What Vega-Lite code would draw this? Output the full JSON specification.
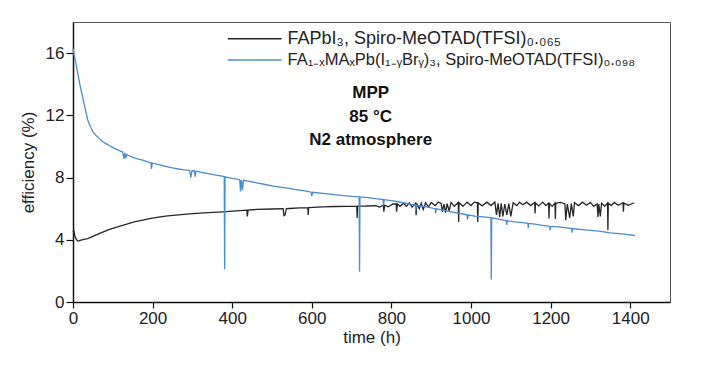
{
  "$schema": "https://vega.github.io/schema/vega-lite/v6.json",
  "width": 597,
  "height": 280,
  "autosize": {"type": "none"},
  "padding": {"left": 73, "top": 22, "right": 33, "bottom": 71},
  "background": "white",
  "config": {
    "view": {"stroke": "#555555", "strokeWidth": 1},
    "font": "Liberation Sans"
  },
  "datasets": {
    "curves": [
      {"t": 0, "eff": 4.5, "s": "FAPbI3"},
      {"t": 2, "eff": 4.6, "s": "FAPbI3"},
      {"t": 5, "eff": 4.2, "s": "FAPbI3"},
      {"t": 10, "eff": 3.95, "s": "FAPbI3"},
      {"t": 13, "eff": 3.92, "s": "FAPbI3"},
      {"t": 20, "eff": 3.97, "s": "FAPbI3"},
      {"t": 30, "eff": 4.04, "s": "FAPbI3"},
      {"t": 37, "eff": 4.08, "s": "FAPbI3"},
      {"t": 50, "eff": 4.22, "s": "FAPbI3"},
      {"t": 70, "eff": 4.44, "s": "FAPbI3"},
      {"t": 90, "eff": 4.65, "s": "FAPbI3"},
      {"t": 112, "eff": 4.83, "s": "FAPbI3"},
      {"t": 135, "eff": 5.0, "s": "FAPbI3"},
      {"t": 154, "eff": 5.15, "s": "FAPbI3"},
      {"t": 175, "eff": 5.27, "s": "FAPbI3"},
      {"t": 196, "eff": 5.37, "s": "FAPbI3"},
      {"t": 215, "eff": 5.46, "s": "FAPbI3"},
      {"t": 238, "eff": 5.54, "s": "FAPbI3"},
      {"t": 265, "eff": 5.6, "s": "FAPbI3"},
      {"t": 300, "eff": 5.68, "s": "FAPbI3"},
      {"t": 340, "eff": 5.74, "s": "FAPbI3"},
      {"t": 377, "eff": 5.8, "s": "FAPbI3"},
      {"t": 410, "eff": 5.86, "s": "FAPbI3"},
      {"t": 437, "eff": 5.9, "s": "FAPbI3"},
      {"t": 438, "eff": 5.5, "s": "FAPbI3"},
      {"t": 440, "eff": 5.9, "s": "FAPbI3"},
      {"t": 461, "eff": 5.95, "s": "FAPbI3"},
      {"t": 500, "eff": 5.98, "s": "FAPbI3"},
      {"t": 528, "eff": 6.0, "s": "FAPbI3"},
      {"t": 530, "eff": 5.55, "s": "FAPbI3"},
      {"t": 533, "eff": 5.6, "s": "FAPbI3"},
      {"t": 536, "eff": 6.0, "s": "FAPbI3"},
      {"t": 544, "eff": 6.01, "s": "FAPbI3"},
      {"t": 570, "eff": 6.05, "s": "FAPbI3"},
      {"t": 590, "eff": 6.07, "s": "FAPbI3"},
      {"t": 591, "eff": 5.6, "s": "FAPbI3"},
      {"t": 592, "eff": 6.07, "s": "FAPbI3"},
      {"t": 628, "eff": 6.12, "s": "FAPbI3"},
      {"t": 660, "eff": 6.14, "s": "FAPbI3"},
      {"t": 690, "eff": 6.15, "s": "FAPbI3"},
      {"t": 713, "eff": 6.16, "s": "FAPbI3"},
      {"t": 714, "eff": 5.4, "s": "FAPbI3"},
      {"t": 715, "eff": 6.16, "s": "FAPbI3"},
      {"t": 737, "eff": 6.17, "s": "FAPbI3"},
      {"t": 760, "eff": 6.2, "s": "FAPbI3"},
      {"t": 770, "eff": 6.1, "s": "FAPbI3"},
      {"t": 780, "eff": 6.22, "s": "FAPbI3"},
      {"t": 781, "eff": 5.8, "s": "FAPbI3"},
      {"t": 783, "eff": 6.22, "s": "FAPbI3"},
      {"t": 792, "eff": 6.12, "s": "FAPbI3"},
      {"t": 804, "eff": 6.3, "s": "FAPbI3"},
      {"t": 812, "eff": 6.3, "s": "FAPbI3"},
      {"t": 813, "eff": 5.8, "s": "FAPbI3"},
      {"t": 815, "eff": 6.3, "s": "FAPbI3"},
      {"t": 822, "eff": 6.15, "s": "FAPbI3"},
      {"t": 830, "eff": 6.35, "s": "FAPbI3"},
      {"t": 838, "eff": 6.15, "s": "FAPbI3"},
      {"t": 845, "eff": 6.38, "s": "FAPbI3"},
      {"t": 852, "eff": 6.1, "s": "FAPbI3"},
      {"t": 861, "eff": 6.36, "s": "FAPbI3"},
      {"t": 862, "eff": 5.58, "s": "FAPbI3"},
      {"t": 864, "eff": 6.33, "s": "FAPbI3"},
      {"t": 870, "eff": 6.0, "s": "FAPbI3"},
      {"t": 875, "eff": 6.35, "s": "FAPbI3"},
      {"t": 880, "eff": 5.95, "s": "FAPbI3"},
      {"t": 886, "eff": 6.38, "s": "FAPbI3"},
      {"t": 893, "eff": 6.1, "s": "FAPbI3"},
      {"t": 900, "eff": 6.4, "s": "FAPbI3"},
      {"t": 910, "eff": 6.2, "s": "FAPbI3"},
      {"t": 918, "eff": 6.42, "s": "FAPbI3"},
      {"t": 925, "eff": 6.33, "s": "FAPbI3"},
      {"t": 928, "eff": 5.8, "s": "FAPbI3"},
      {"t": 932, "eff": 6.3, "s": "FAPbI3"},
      {"t": 936, "eff": 5.75, "s": "FAPbI3"},
      {"t": 940, "eff": 6.32, "s": "FAPbI3"},
      {"t": 945, "eff": 5.85, "s": "FAPbI3"},
      {"t": 950, "eff": 6.4, "s": "FAPbI3"},
      {"t": 958, "eff": 6.15, "s": "FAPbI3"},
      {"t": 968, "eff": 6.4, "s": "FAPbI3"},
      {"t": 969, "eff": 5.15, "s": "FAPbI3"},
      {"t": 970, "eff": 6.38, "s": "FAPbI3"},
      {"t": 980, "eff": 6.15, "s": "FAPbI3"},
      {"t": 990, "eff": 6.42, "s": "FAPbI3"},
      {"t": 1000, "eff": 6.2, "s": "FAPbI3"},
      {"t": 1008, "eff": 6.42, "s": "FAPbI3"},
      {"t": 1016, "eff": 6.38, "s": "FAPbI3"},
      {"t": 1017, "eff": 5.15, "s": "FAPbI3"},
      {"t": 1018, "eff": 6.38, "s": "FAPbI3"},
      {"t": 1028, "eff": 6.18, "s": "FAPbI3"},
      {"t": 1040, "eff": 6.42, "s": "FAPbI3"},
      {"t": 1050, "eff": 6.2, "s": "FAPbI3"},
      {"t": 1060, "eff": 6.42, "s": "FAPbI3"},
      {"t": 1064, "eff": 5.6, "s": "FAPbI3"},
      {"t": 1068, "eff": 6.35, "s": "FAPbI3"},
      {"t": 1072, "eff": 5.47, "s": "FAPbI3"},
      {"t": 1076, "eff": 6.35, "s": "FAPbI3"},
      {"t": 1080, "eff": 5.5, "s": "FAPbI3"},
      {"t": 1085, "eff": 6.3, "s": "FAPbI3"},
      {"t": 1090, "eff": 5.6, "s": "FAPbI3"},
      {"t": 1095, "eff": 6.32, "s": "FAPbI3"},
      {"t": 1100, "eff": 5.5, "s": "FAPbI3"},
      {"t": 1106, "eff": 6.38, "s": "FAPbI3"},
      {"t": 1115, "eff": 6.2, "s": "FAPbI3"},
      {"t": 1122, "eff": 6.42, "s": "FAPbI3"},
      {"t": 1130, "eff": 6.25, "s": "FAPbI3"},
      {"t": 1140, "eff": 6.42, "s": "FAPbI3"},
      {"t": 1150, "eff": 6.2, "s": "FAPbI3"},
      {"t": 1160, "eff": 6.4, "s": "FAPbI3"},
      {"t": 1161, "eff": 5.69, "s": "FAPbI3"},
      {"t": 1162, "eff": 6.38, "s": "FAPbI3"},
      {"t": 1170, "eff": 6.18, "s": "FAPbI3"},
      {"t": 1180, "eff": 6.42, "s": "FAPbI3"},
      {"t": 1188, "eff": 6.2, "s": "FAPbI3"},
      {"t": 1195, "eff": 6.36, "s": "FAPbI3"},
      {"t": 1196, "eff": 5.37, "s": "FAPbI3"},
      {"t": 1197, "eff": 6.34, "s": "FAPbI3"},
      {"t": 1204, "eff": 6.15, "s": "FAPbI3"},
      {"t": 1211, "eff": 6.36, "s": "FAPbI3"},
      {"t": 1212, "eff": 5.33, "s": "FAPbI3"},
      {"t": 1213, "eff": 6.34, "s": "FAPbI3"},
      {"t": 1225, "eff": 6.4, "s": "FAPbI3"},
      {"t": 1236, "eff": 6.3, "s": "FAPbI3"},
      {"t": 1238, "eff": 5.26, "s": "FAPbI3"},
      {"t": 1242, "eff": 6.3, "s": "FAPbI3"},
      {"t": 1248, "eff": 5.4, "s": "FAPbI3"},
      {"t": 1252, "eff": 6.33, "s": "FAPbI3"},
      {"t": 1257, "eff": 5.5, "s": "FAPbI3"},
      {"t": 1260, "eff": 6.38, "s": "FAPbI3"},
      {"t": 1270, "eff": 6.2, "s": "FAPbI3"},
      {"t": 1280, "eff": 6.42, "s": "FAPbI3"},
      {"t": 1290, "eff": 6.22, "s": "FAPbI3"},
      {"t": 1300, "eff": 6.4, "s": "FAPbI3"},
      {"t": 1308, "eff": 6.15, "s": "FAPbI3"},
      {"t": 1317, "eff": 6.3, "s": "FAPbI3"},
      {"t": 1319, "eff": 5.47, "s": "FAPbI3"},
      {"t": 1321, "eff": 6.3, "s": "FAPbI3"},
      {"t": 1325, "eff": 5.5, "s": "FAPbI3"},
      {"t": 1328, "eff": 6.35, "s": "FAPbI3"},
      {"t": 1336, "eff": 6.15, "s": "FAPbI3"},
      {"t": 1343, "eff": 6.36, "s": "FAPbI3"},
      {"t": 1344, "eff": 4.62, "s": "FAPbI3"},
      {"t": 1345, "eff": 6.35, "s": "FAPbI3"},
      {"t": 1352, "eff": 6.2, "s": "FAPbI3"},
      {"t": 1360, "eff": 6.4, "s": "FAPbI3"},
      {"t": 1370, "eff": 6.22, "s": "FAPbI3"},
      {"t": 1382, "eff": 6.38, "s": "FAPbI3"},
      {"t": 1383, "eff": 5.8, "s": "FAPbI3"},
      {"t": 1384, "eff": 6.36, "s": "FAPbI3"},
      {"t": 1395, "eff": 6.22, "s": "FAPbI3"},
      {"t": 1410, "eff": 6.38, "s": "FAPbI3"},
      {"t": 0, "eff": 16.3, "s": "FAMA"},
      {"t": 2, "eff": 16.0, "s": "FAMA"},
      {"t": 6, "eff": 15.5, "s": "FAMA"},
      {"t": 12, "eff": 14.7, "s": "FAMA"},
      {"t": 18, "eff": 13.9, "s": "FAMA"},
      {"t": 24, "eff": 13.2, "s": "FAMA"},
      {"t": 30, "eff": 12.5, "s": "FAMA"},
      {"t": 37, "eff": 11.7, "s": "FAMA"},
      {"t": 44, "eff": 11.25, "s": "FAMA"},
      {"t": 50, "eff": 10.95, "s": "FAMA"},
      {"t": 58, "eff": 10.7, "s": "FAMA"},
      {"t": 66, "eff": 10.52, "s": "FAMA"},
      {"t": 75, "eff": 10.3, "s": "FAMA"},
      {"t": 85, "eff": 10.15, "s": "FAMA"},
      {"t": 95, "eff": 10.0, "s": "FAMA"},
      {"t": 104, "eff": 9.88, "s": "FAMA"},
      {"t": 115, "eff": 9.75, "s": "FAMA"},
      {"t": 125, "eff": 9.64, "s": "FAMA"},
      {"t": 128, "eff": 9.2, "s": "FAMA"},
      {"t": 130, "eff": 9.58, "s": "FAMA"},
      {"t": 133, "eff": 9.25, "s": "FAMA"},
      {"t": 135, "eff": 9.48, "s": "FAMA"},
      {"t": 146, "eff": 9.34, "s": "FAMA"},
      {"t": 160, "eff": 9.22, "s": "FAMA"},
      {"t": 175, "eff": 9.12, "s": "FAMA"},
      {"t": 185, "eff": 9.03, "s": "FAMA"},
      {"t": 196, "eff": 8.95, "s": "FAMA"},
      {"t": 197, "eff": 8.55, "s": "FAMA"},
      {"t": 199, "eff": 8.94, "s": "FAMA"},
      {"t": 210, "eff": 8.87, "s": "FAMA"},
      {"t": 225, "eff": 8.77, "s": "FAMA"},
      {"t": 238, "eff": 8.69, "s": "FAMA"},
      {"t": 250, "eff": 8.62, "s": "FAMA"},
      {"t": 265, "eff": 8.55, "s": "FAMA"},
      {"t": 280, "eff": 8.5, "s": "FAMA"},
      {"t": 293, "eff": 8.47, "s": "FAMA"},
      {"t": 296, "eff": 8.0, "s": "FAMA"},
      {"t": 299, "eff": 8.45, "s": "FAMA"},
      {"t": 305, "eff": 8.43, "s": "FAMA"},
      {"t": 307, "eff": 8.05, "s": "FAMA"},
      {"t": 309, "eff": 8.41, "s": "FAMA"},
      {"t": 320, "eff": 8.35, "s": "FAMA"},
      {"t": 340, "eff": 8.25, "s": "FAMA"},
      {"t": 360, "eff": 8.15, "s": "FAMA"},
      {"t": 380, "eff": 8.06, "s": "FAMA"},
      {"t": 381, "eff": 2.1, "s": "FAMA"},
      {"t": 382, "eff": 8.05, "s": "FAMA"},
      {"t": 400, "eff": 7.95, "s": "FAMA"},
      {"t": 419, "eff": 7.86, "s": "FAMA"},
      {"t": 421, "eff": 7.1, "s": "FAMA"},
      {"t": 423, "eff": 7.84, "s": "FAMA"},
      {"t": 426, "eff": 7.2, "s": "FAMA"},
      {"t": 428, "eff": 7.82, "s": "FAMA"},
      {"t": 440, "eff": 7.77, "s": "FAMA"},
      {"t": 461, "eff": 7.66, "s": "FAMA"},
      {"t": 480, "eff": 7.57, "s": "FAMA"},
      {"t": 500, "eff": 7.47, "s": "FAMA"},
      {"t": 520, "eff": 7.39, "s": "FAMA"},
      {"t": 544, "eff": 7.3, "s": "FAMA"},
      {"t": 560, "eff": 7.23, "s": "FAMA"},
      {"t": 575, "eff": 7.17, "s": "FAMA"},
      {"t": 598, "eff": 7.07, "s": "FAMA"},
      {"t": 600, "eff": 6.8, "s": "FAMA"},
      {"t": 602, "eff": 7.05, "s": "FAMA"},
      {"t": 628, "eff": 6.98, "s": "FAMA"},
      {"t": 650, "eff": 6.92, "s": "FAMA"},
      {"t": 680, "eff": 6.84, "s": "FAMA"},
      {"t": 700, "eff": 6.79, "s": "FAMA"},
      {"t": 719, "eff": 6.76, "s": "FAMA"},
      {"t": 720, "eff": 1.95, "s": "FAMA"},
      {"t": 721, "eff": 6.76, "s": "FAMA"},
      {"t": 737, "eff": 6.72, "s": "FAMA"},
      {"t": 760, "eff": 6.64, "s": "FAMA"},
      {"t": 779, "eff": 6.59, "s": "FAMA"},
      {"t": 780, "eff": 6.2, "s": "FAMA"},
      {"t": 782, "eff": 6.58, "s": "FAMA"},
      {"t": 804, "eff": 6.5, "s": "FAMA"},
      {"t": 830, "eff": 6.38, "s": "FAMA"},
      {"t": 850, "eff": 6.28, "s": "FAMA"},
      {"t": 860, "eff": 6.24, "s": "FAMA"},
      {"t": 861, "eff": 5.85, "s": "FAMA"},
      {"t": 863, "eff": 6.22, "s": "FAMA"},
      {"t": 888, "eff": 6.12, "s": "FAMA"},
      {"t": 910, "eff": 6.0, "s": "FAMA"},
      {"t": 911, "eff": 5.7, "s": "FAMA"},
      {"t": 913, "eff": 5.99, "s": "FAMA"},
      {"t": 930, "eff": 5.9, "s": "FAMA"},
      {"t": 950, "eff": 5.8, "s": "FAMA"},
      {"t": 972, "eff": 5.69, "s": "FAMA"},
      {"t": 990, "eff": 5.6, "s": "FAMA"},
      {"t": 991, "eff": 5.3, "s": "FAMA"},
      {"t": 993, "eff": 5.59, "s": "FAMA"},
      {"t": 1010, "eff": 5.52, "s": "FAMA"},
      {"t": 1030, "eff": 5.47, "s": "FAMA"},
      {"t": 1050, "eff": 5.42, "s": "FAMA"},
      {"t": 1051, "eff": 1.44, "s": "FAMA"},
      {"t": 1052, "eff": 5.41, "s": "FAMA"},
      {"t": 1072, "eff": 5.31, "s": "FAMA"},
      {"t": 1089, "eff": 5.22, "s": "FAMA"},
      {"t": 1090, "eff": 4.95, "s": "FAMA"},
      {"t": 1091, "eff": 5.22, "s": "FAMA"},
      {"t": 1110, "eff": 5.15, "s": "FAMA"},
      {"t": 1130, "eff": 5.1, "s": "FAMA"},
      {"t": 1143, "eff": 5.06, "s": "FAMA"},
      {"t": 1144, "eff": 4.75, "s": "FAMA"},
      {"t": 1145, "eff": 5.05, "s": "FAMA"},
      {"t": 1156, "eff": 5.02, "s": "FAMA"},
      {"t": 1180, "eff": 4.92, "s": "FAMA"},
      {"t": 1198, "eff": 4.86, "s": "FAMA"},
      {"t": 1199, "eff": 4.6, "s": "FAMA"},
      {"t": 1200, "eff": 4.86, "s": "FAMA"},
      {"t": 1220, "eff": 4.83, "s": "FAMA"},
      {"t": 1240, "eff": 4.77, "s": "FAMA"},
      {"t": 1253, "eff": 4.72, "s": "FAMA"},
      {"t": 1254, "eff": 4.45, "s": "FAMA"},
      {"t": 1255, "eff": 4.72, "s": "FAMA"},
      {"t": 1280, "eff": 4.65, "s": "FAMA"},
      {"t": 1300, "eff": 4.6, "s": "FAMA"},
      {"t": 1323, "eff": 4.55, "s": "FAMA"},
      {"t": 1350, "eff": 4.45, "s": "FAMA"},
      {"t": 1380, "eff": 4.38, "s": "FAMA"},
      {"t": 1407, "eff": 4.29, "s": "FAMA"},
      {"t": 1412, "eff": 4.27, "s": "FAMA"}
    ],
    "legend": [
      {"t1": 389, "t2": 524, "tl": 539, "eff": 16.92, "s": "FAPbI3", "label": "FAPbI₃, Spiro-MeOTAD(TFSI)₀.₀₆₅"},
      {"t1": 389, "t2": 524, "tl": 539, "eff": 15.56, "s": "FAMA", "label": "FA₁₋ₓMAₓPb(I₁₋ᵧBrᵧ)₃, Spiro-MeOTAD(TFSI)₀.₀₉₈"}
    ],
    "notes": [
      {"t": 748, "eff": 13.44, "label": "MPP"},
      {"t": 748, "eff": 11.89, "label": "85 °C"},
      {"t": 748, "eff": 10.41, "label": "N2 atmosphere"}
    ]
  },
  "layer": [
    {
      "data": {"name": "curves"},
      "mark": {"type": "line", "strokeWidth": 1.3},
      "encoding": {
        "x": {
          "field": "t", "type": "quantitative",
          "scale": {"domain": [0, 1500], "nice": false, "zero": false},
          "axis": {
            "title": "time (h)",
            "values": [0, 100, 200, 300, 400, 500, 600, 700, 800, 900, 1000, 1100, 1200, 1300, 1400, 1500],
            "labelExpr": "datum.value % 200 === 0 && datum.value < 1500 ? datum.label : ''",
            "format": "d",
            "grid": false,
            "domainColor": "#111111", "domainWidth": 1.5,
            "tickColor": "#111111", "tickSize": 6, "tickWidth": 1.2,
            "labelFontSize": 17, "labelColor": "#222222", "labelPadding": 2,
            "labelFlush": false, "labelOverlap": false,
            "titleFontSize": 17, "titleFontWeight": "normal", "titleColor": "#222222", "titlePadding": 3
          }
        },
        "y": {
          "field": "eff", "type": "quantitative",
          "scale": {"domain": [0, 18], "nice": false},
          "axis": {
            "title": "efficiency (%)",
            "values": [0, 2, 4, 6, 8, 10, 12, 14, 16, 18],
            "labelExpr": "datum.value % 4 === 0 ? datum.label : ''",
            "grid": false,
            "domainColor": "#111111", "domainWidth": 1.5,
            "tickColor": "#111111", "tickSize": 7, "tickWidth": 1.2,
            "labelFontSize": 17, "labelColor": "#222222", "labelPadding": 2,
            "labelFlush": false, "labelOverlap": false,
            "titleFontSize": 17, "titleFontWeight": "normal", "titleColor": "#222222", "titlePadding": 8
          }
        },
        "color": {
          "field": "s", "type": "nominal",
          "scale": {"domain": ["FAPbI3", "FAMA"], "range": ["#262626", "#4b8bd0"]},
          "legend": null
        },
        "order": {"field": "t", "type": "quantitative"}
      }
    },
    {
      "data": {"name": "legend"},
      "mark": {"type": "rule", "strokeWidth": 1.5},
      "encoding": {
        "x": {"field": "t1", "type": "quantitative"},
        "x2": {"field": "t2"},
        "y": {"field": "eff", "type": "quantitative"},
        "color": {"field": "s", "type": "nominal", "legend": null}
      }
    },
    {
      "data": {"name": "legend"},
      "mark": {"type": "text", "align": "left", "baseline": "middle", "color": "#222222", "font": "Liberation Sans"},
      "encoding": {
        "x": {"field": "tl", "type": "quantitative"},
        "y": {"field": "eff", "type": "quantitative"},
        "text": {"field": "label"},
        "size": {"condition": {"test": "datum.s === 'FAMA'", "value": 16.5}, "value": 18}
      }
    },
    {
      "data": {"name": "notes"},
      "mark": {"type": "text", "align": "center", "baseline": "middle", "fontSize": 17, "fontWeight": "bold", "color": "#111111", "font": "Liberation Sans"},
      "encoding": {
        "x": {"field": "t", "type": "quantitative"},
        "y": {"field": "eff", "type": "quantitative"},
        "text": {"field": "label"}
      }
    }
  ]
}
